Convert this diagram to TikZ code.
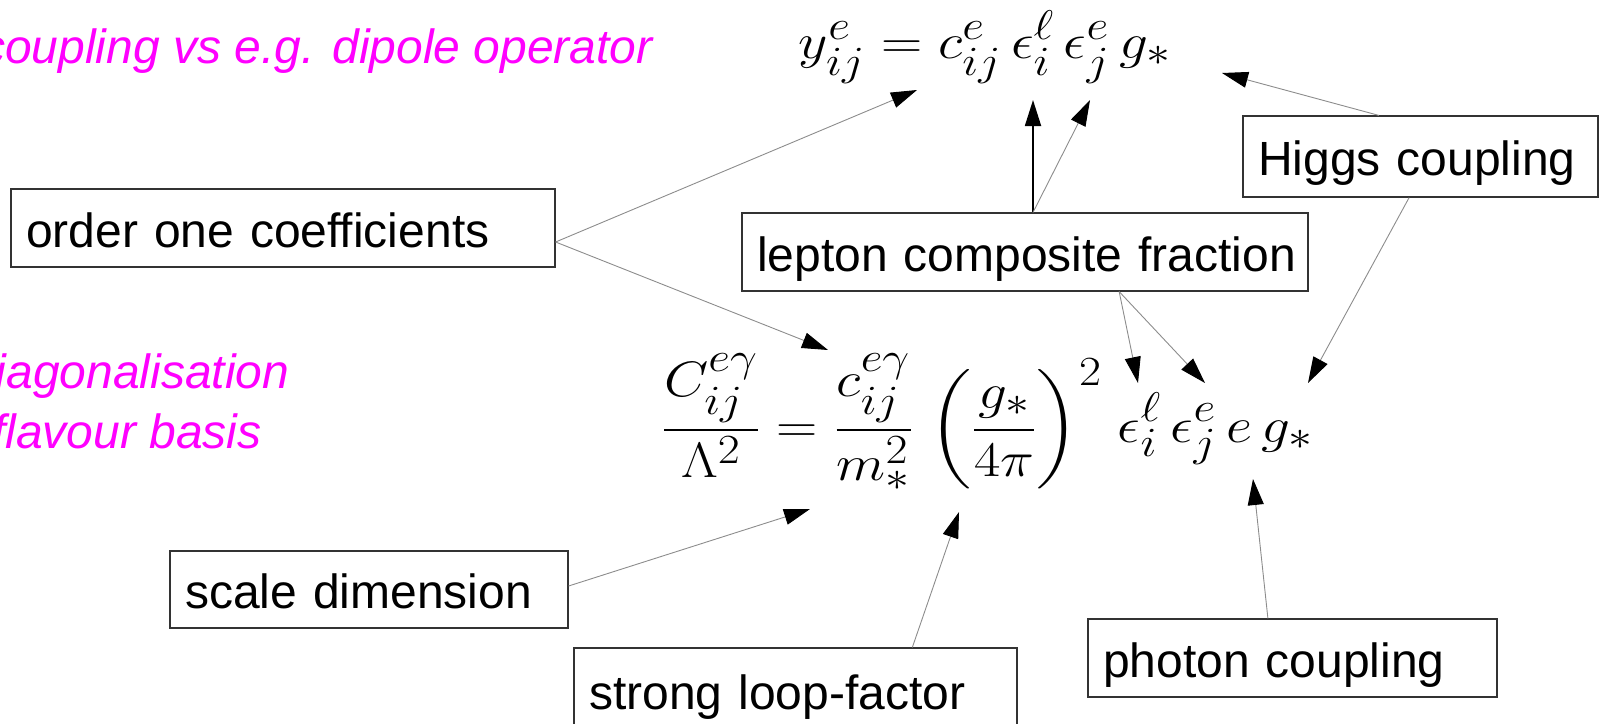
\documentclass[tikz,border=0pt]{standalone}
\usepackage{graphicx}
\usepackage{exscale}
\usepackage{fontspec}
\setmainfont{Liberation Sans}
\usetikzlibrary{arrows.meta,calc}
\definecolor{mag}{RGB}{255,0,255}
\newcommand{\bigmath}[1]{\scalebox{2.3}[2.0]{\fontsize{24.88}{30}\selectfont$#1$}}
\begin{document}
\begin{tikzpicture}[x=1pt,y=-1pt,
  box/.style={draw=black!80, line width=1.2pt, font=\fontsize{48}{58}\selectfont, align=left,
    inner xsep=15pt, inner ysep=0pt, text height=38pt, text depth=0pt, minimum height=78pt},
  conn/.style={draw=black!45, line width=0.9pt, -{Triangle[length=26pt,width=16pt,color=black]}},
  connb/.style={draw=black, line width=1.8pt, -{Triangle[length=26pt,width=16pt,color=black]}},
  note/.style={text=mag, font=\fontsize{48}{58}\selectfont\itshape, inner sep=0pt, anchor=base west},
  eq/.style={inner sep=0pt, anchor=base}]
\useasboundingbox (0,0) rectangle (1602,723);
\clip (0,0) rectangle (1602,723);

% magenta notes
\node[note] (n1) at (-19,63) {coupling vs e.g. dipole operator};
\node[note] (n2) at (-31,388) {diagonalisation};
\node[note] (n3) at (-8,448) {flavour basis};

% equations
\node[eq] (eqtop) at (985,58) {\bigmath{y^{e}_{ij} = c^{e}_{ij}\,\epsilon^{\ell}_{i}\,\epsilon^{e}_{j}\,g_*}};
\node[eq] (eqbot) at (987.5,442) {\bigmath{\displaystyle \frac{C^{e\gamma}_{ij}}{\Lambda^2} = \frac{c^{e\gamma}_{ij}}{m_*^2}\;\biggl(\frac{g_*}{4\pi}\biggr)^{2}\;\epsilon^{\ell}_{i}\,\epsilon^{e}_{j}\,e\,g_*}};

% boxes
\node[box, text width=514pt] (ooc) at (283,228) {\mbox{order one coefficients}};
\node[box, text width=536pt] (lcf) at (1025,252) {\mbox{lepton composite fraction}};
\node[box, text width=325pt, minimum height=81pt] (hig) at (1420.5,156.5) {\mbox{Higgs coupling}};
\node[box, text width=368pt, minimum height=77pt] (scl) at (369,589.5) {\mbox{scale dimension}};
\node[box, text width=413pt, minimum height=84pt] (lop) at (795.5,690) {\mbox{strong loop-factor}};
\node[box, text width=379pt] (pho) at (1292.5,658) {\mbox{photon coupling}};

% arrow targets
\coordinate (t1) at (917,90);
\coordinate (t2) at (828,350);
\coordinate (t3) at (1033,100);
\coordinate (t4) at (1090,100);
\coordinate (t5) at (1138,383);
\coordinate (t6) at (1205,383);
\coordinate (t7) at (1222,73);
\coordinate (t8) at (1308,383);
\coordinate (t9) at (810,509);
\coordinate (t10) at (959,512);
\coordinate (t11) at (1253,479);

% connectors
\draw[conn] ([yshift=-14pt]ooc.east) -- (t1);
\draw[conn] ([yshift=-14pt]ooc.east) -- (t2);
\draw[connb] (lcf.north -| t3) -- (t3);
\draw[conn] (lcf.north -| t3) -- (t4);
\draw[conn] ($(lcf.south west)!0.666!(lcf.south east)$) -- (t5);
\draw[conn] ($(lcf.south west)!0.666!(lcf.south east)$) -- (t6);
\draw[conn] ($(hig.north west)!0.383!(hig.north east)$) -- (t7);
\draw[conn] ($(hig.south west)!0.468!(hig.south east)$) -- (t8);
\draw[conn] ([yshift=3.5pt]scl.east) -- (t9);
\draw[conn] ($(lop.north west)!0.763!(lop.north east)$) -- (t10);
\draw[conn] ($(pho.north west)!0.44!(pho.north east)$) -- (t11);
\end{tikzpicture}
\end{document}
